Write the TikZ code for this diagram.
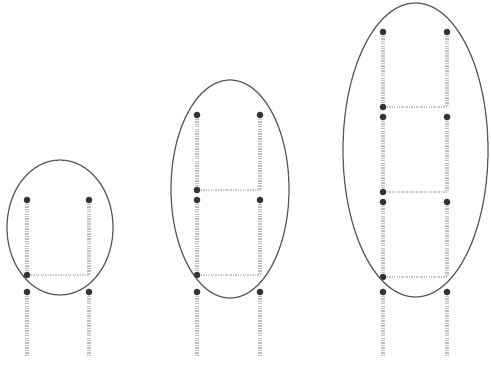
\documentclass[tikz,border=0pt]{standalone}
\usepackage{tikz}

\begin{document}
\begin{tikzpicture}[x=0.02cm, y=-0.02cm,
    dot/.style={circle, fill=black!80, inner sep=0pt, minimum size=3.8pt},
    rail/.style={draw=gray!50, dash pattern=on 0.8pt off 0.6pt, line width=1.8pt},
    rung/.style={draw=gray!45, dash pattern=on 0.8pt off 0.6pt, line width=1.3pt},
    ring/.style={draw=black!65, line width=0.7pt}]
    \useasboundingbox (0,0) rectangle (491,371);
    % ladder a
    \foreach \y [count=\i] in {200} {
        \node[dot] (a\i L) at (27,\y) {};
        \node[dot] (a\i R) at (89,\y) {};
        \node[dot] (a\i r) at (27,\y+75) {};
        \coordinate (a\i s) at (89,\y+75);
        \draw[rail] (a\i L) -- (a\i r);
        \draw[rail] (a\i R) -- (a\i s);
        \draw[rung] (a\i r) -- (a\i s);
    }
    \node[dot] (a0L) at (27,292) {};
    \node[dot] (a0R) at (89,292) {};
    \coordinate (a0l) at (27,357);
    \coordinate (a0r) at (89,357);
    \draw[rail] (a0L) -- (a0l);
    \draw[rail] (a0R) -- (a0r);
    % ladder b
    \foreach \y [count=\i] in {115,200} {
        \node[dot] (b\i L) at (197,\y) {};
        \node[dot] (b\i R) at (260,\y) {};
        \node[dot] (b\i r) at (197,\y+75) {};
        \coordinate (b\i s) at (260,\y+75);
        \draw[rail] (b\i L) -- (b\i r);
        \draw[rail] (b\i R) -- (b\i s);
        \draw[rung] (b\i r) -- (b\i s);
    }
    \node[dot] (b0L) at (197,292) {};
    \node[dot] (b0R) at (260,292) {};
    \coordinate (b0l) at (197,357);
    \coordinate (b0r) at (260,357);
    \draw[rail] (b0L) -- (b0l);
    \draw[rail] (b0R) -- (b0r);
    % ladder c
    \foreach \y [count=\i] in {32,117,202} {
        \node[dot] (c\i L) at (383,\y) {};
        \node[dot] (c\i R) at (447,\y) {};
        \node[dot] (c\i r) at (383,\y+75) {};
        \coordinate (c\i s) at (447,\y+75);
        \draw[rail] (c\i L) -- (c\i r);
        \draw[rail] (c\i R) -- (c\i s);
        \draw[rung] (c\i r) -- (c\i s);
    }
    \node[dot] (c0L) at (383,292) {};
    \node[dot] (c0R) at (447,292) {};
    \coordinate (c0l) at (383,355);
    \coordinate (c0r) at (447,355);
    \draw[rail] (c0L) -- (c0l);
    \draw[rail] (c0R) -- (c0r);
    % rings
    \draw[ring] (60,227.5) ellipse [x radius=53, y radius=67.5];
    \draw[ring] (230,189) ellipse [x radius=59, y radius=109];
    \draw[ring] (415.5,150) ellipse [x radius=72.5, y radius=147];
\end{tikzpicture}
\end{document}
